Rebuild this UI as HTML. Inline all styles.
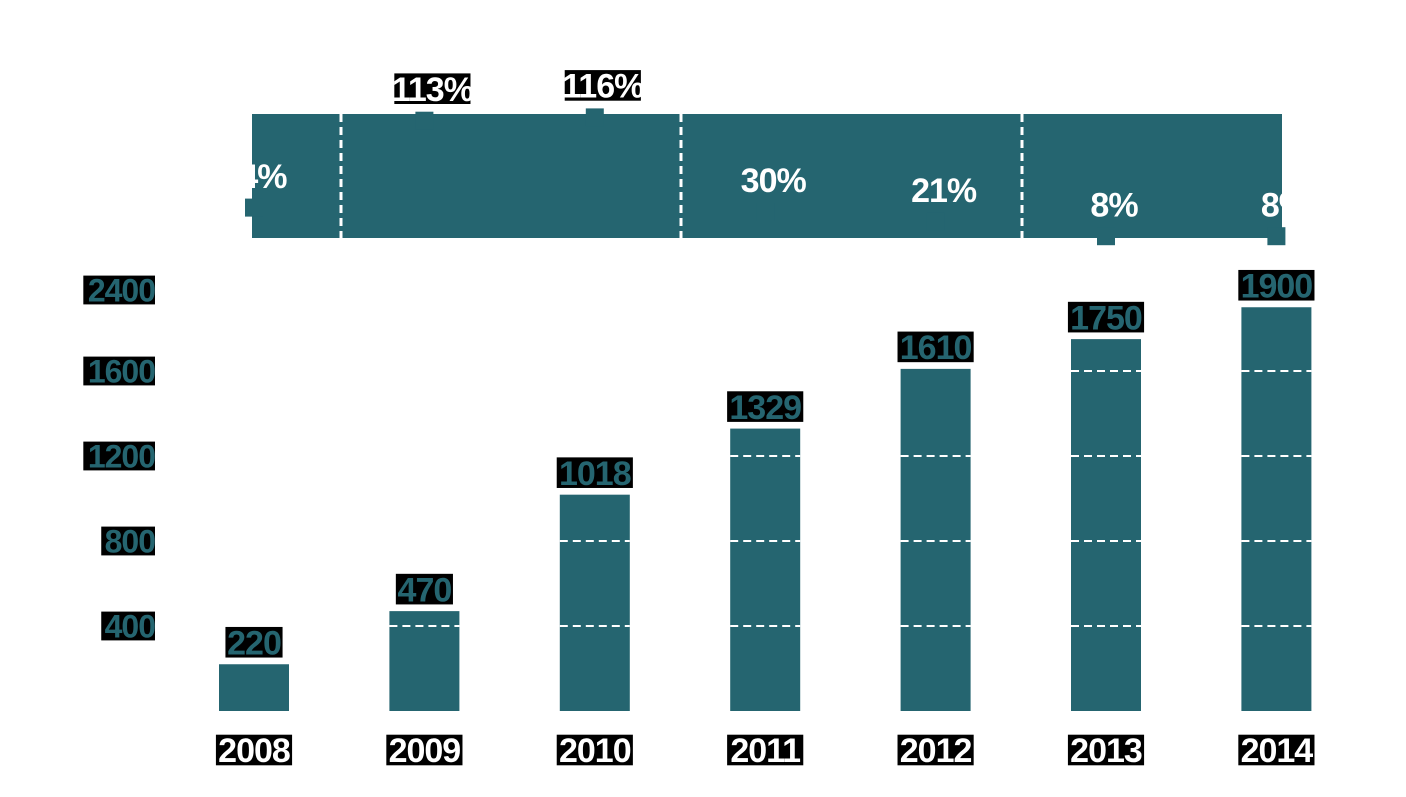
<!DOCTYPE html>
<html><head><meta charset="utf-8"><style>
html,body{margin:0;padding:0;background:#fff;}
svg{display:block;font-family:"Liberation Sans","DejaVu Sans",sans-serif;font-weight:bold;}
</style></head><body>
<svg id="chart" width="1406" height="797" viewBox="0 0 1406 797" xmlns="http://www.w3.org/2000/svg">
<rect x="252" y="114" width="1030" height="124" fill="#256570"/>
<g id="bandlines"></g>
<g id="bars"></g>
<g id="labels"></g>
</svg>
<script>
const years = ["2008","2009","2010","2011","2012","2013","2014"];
const values = [220,470,1018,1329,1610,1750,1900];
const growth = [34,113,116,30,21,8,8];
const tickValues = [400,800,1200,1600,2000];
const tickLabels = ["400","800","1200","1600","2400"];
const NS="http://www.w3.org/2000/svg";
const baseY=711, k=0.2125, barW=70;
function x(i){return 254+i*170.4;}
function y(v){return baseY-v*k;}
function gy(p){return Math.max(117,245-p*1.1);}
function mk(tag,attrs,parent){const e=document.createElementNS(NS,tag);for(const a in attrs)e.setAttribute(a,attrs[a]);parent.appendChild(e);return e;}
const bars=document.getElementById('bars'), labels=document.getElementById('labels'), bl=document.getElementById('bandlines');
[341,681,1022].forEach(px=>{
  const l=mk('line',{x1:px,x2:px,y1:114,y2:238,stroke:'#fff','stroke-width':3,'stroke-dasharray':'8,5'},bl);
  
  
});
function boxText(str,cx,cy,size,fill,bg,name,anchor){
  const g=mk('g',{},labels);
  
  
  const w=str.length*size*0.56, h=size*0.9;
  let lx = anchor==='end'? cx-w : cx-w/2;
  if(bg) mk('rect',{x:lx,y:cy-h/2,width:w,height:h,fill:bg},g);
  const t=mk('text',{x:anchor==='end'?cx:cx,y:cy+size*0.36,'text-anchor':anchor||'middle','font-size':size,fill:fill,'letter-spacing':'-1'},g);
  t.textContent=str;
}
values.forEach((v,i)=>{
  const r=mk('rect',{x:x(i)-barW/2,y:y(v),width:barW,height:baseY-y(v),fill:'#256570'},bars);
  
  
  tickValues.forEach(tv=>{
    if(tv<v-20){
      const d=mk('line',{x1:x(i)-barW/2,x2:x(i)+barW/2,y1:y(tv),y2:y(tv),stroke:'#fff','stroke-width':2,'stroke-dasharray':'8,5'},bars);
      
      
    }
  });
  boxText(String(v),x(i),y(v)-22,34,'#256570','#000','value-label-'+years[i]);
  boxText(years[i],x(i),750,34,'#fff','#000','year-label-'+years[i]);
});
tickValues.forEach((tv,j)=>{
  boxText(tickLabels[j],155,j===4?290:y(tv),32,'#256570','#000','y-tick-'+tickLabels[j],'end');
});
growth.forEach((p,i)=>{
  const m=mk('rect',{x:x(i)-9,y:gy(p)-9,width:18,height:18,fill:'#256570'},labels);
  
  
  const ly=gy(p)-32;
  boxText(p+'%',x(i)+(i===0?0:8),ly,34,'#fff',ly<114?'#000':null,'growth-label-'+years[i]);
});
</script>
</body></html>
